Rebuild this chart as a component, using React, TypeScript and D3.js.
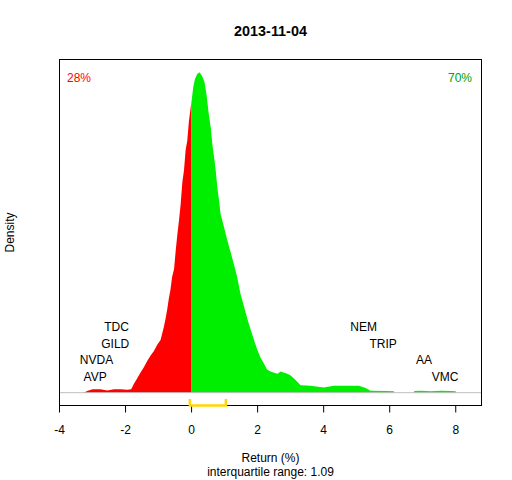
import React from "react";
import * as d3 from "d3";

const title = "2013-11-04";
const returnGrid = [
  -3.27, -3.16, -3.0, -2.76, -2.55, -2.35, -2.15, -1.95, -1.83, -1.75, -1.65, -1.55, -1.45, -1.34,
  -1.24, -1.14, -1.04, -0.94, -0.84, -0.79, -0.74, -0.69, -0.64, -0.59, -0.53, -0.48, -0.43, -0.38,
  -0.33, -0.28, -0.23, -0.18, -0.13, -0.08, -0.03, 0, 0.05, 0.1, 0.17, 0.24, 0.32, 0.39, 0.45, 0.52,
  0.58, 0.63, 0.68, 0.73, 0.78, 0.83, 0.88, 0.98, 1.08, 1.18, 1.28, 1.38, 1.48, 1.59, 1.69, 1.79,
  1.89, 1.99, 2.09, 2.19, 2.29, 2.39, 2.5, 2.6, 2.7, 2.8, 2.9, 3.0, 3.15, 3.3, 3.6, 4.0, 4.31, 4.72,
  5.07, 5.27, 5.42, 5.93, 6.13, 6.13, 6.74, 6.74, 6.94, 7.24, 7.55, 7.85, 8.0, 8.0,
];
const densityValues = [
  0, 0.003, 0.006, 0.006, 0.004, 0.006, 0.006, 0.005, 0.006, 0.015, 0.025, 0.035, 0.044, 0.056,
  0.065, 0.073, 0.084, 0.092, 0.115, 0.129, 0.145, 0.164, 0.18, 0.202, 0.216, 0.249, 0.277, 0.302,
  0.33, 0.368, 0.389, 0.424, 0.441, 0.475, 0.497, 0.51, 0.534, 0.548, 0.557, 0.56, 0.553, 0.543,
  0.522, 0.487, 0.464, 0.434, 0.412, 0.389, 0.359, 0.337, 0.312, 0.29, 0.267, 0.246, 0.225, 0.202,
  0.173, 0.15, 0.129, 0.11, 0.092, 0.075, 0.061, 0.051, 0.04, 0.037, 0.035, 0.033, 0.037, 0.035,
  0.033, 0.03, 0.022, 0.013, 0.012, 0.009, 0.012, 0.012, 0.012, 0.008, 0.0035, 0.003, 0.0026, 0,
  0, 0.003, 0.0035, 0.0026, 0.0035, 0.003, 0.0026, 0,
];

const leftTickers = ["AVP", "NVDA", "GILD", "TDC"];
const leftReturns = [-2.92, -2.88, -2.31, -2.27];
const rightTickers = ["VMC", "AA", "TRIP", "NEM"];
const rightReturns = [7.68, 7.04, 5.8, 5.21];

const quartile1 = -0.05;
const quartile3 = 1.04;
const iqrLabel = "1.09";
const pctNegative = 28;
const pctPositive = 70;
const xTicks = [-4, -2, 0, 2, 4, 6, 8];
const xDomain = [-4, 8.78];

const W = 512;
const H = 480;
const L = 59.5, R = 481.5, T = 59.5, B = 405.5;
const FONT = "'Liberation Sans', Arial, Helvetica, sans-serif";

export default function App() {
  const x = d3.scaleLinear().domain(xDomain).range([L, R]);
  const yMax = d3.max(densityValues) as number;
  const pad = 0.04 * yMax;
  const y = d3.scaleLinear().domain([-pad, yMax + pad]).range([B, T]);

  const pts = returnGrid.map((r, i) => ({ r, d: densityValues[i] }));
  const area = d3
    .area<{ r: number; d: number }>()
    .x((p) => x(p.r))
    .y0(y(0))
    .y1((p) => y(p.d))
    .curve(d3.curveLinear);
  const neg = pts.filter((p) => p.r <= 0);
  const pos = pts.filter((p) => p.r >= 0);

  const rowStep = 16.8;
  const labelY = (lvl: number) => y(0) - 11.5 - lvl * rowStep;

  return (
    <svg
      width={W}
      height={H}
      style={{ position: "absolute", left: 0, top: 0, background: "#fff" }}
      fontFamily={FONT}
    >
      <rect x={0} y={0} width={W} height={H} fill="#fff" />
      <text x={(L + R) / 2} y={36} textAnchor="middle" fontWeight="bold" fontSize={14.4}>
        {title}
      </text>
      <path d={area(neg) || ""} fill="#ff0000" />
      <path d={area(pos) || ""} fill="#00ee00" />
      <line x1={L} x2={R} y1={y(0)} y2={y(0)} stroke="#bebebe" strokeWidth={1} />
      <rect x={L} y={T} width={R - L} height={B - T} fill="none" stroke="#000" strokeWidth={1} />
      {xTicks.map((t) => (
        <g key={t}>
          <line x1={x(t)} x2={x(t)} y1={B} y2={B + 7} stroke="#000" />
          <text x={x(t)} y={433.5} textAnchor="middle" fontSize={12}>
            {t}
          </text>
        </g>
      ))}
      <path
        d={`M${x(quartile1)},${B - 6.5} V${B} H${x(quartile3)} V${B - 6.5}`}
        fill="none"
        stroke="#ffd700"
        strokeWidth={2.5}
      />
      <text x={(L + R) / 2} y={461.5} textAnchor="middle" fontSize={12}>
        Return (%)
      </text>
      <text x={(L + R) / 2} y={476} textAnchor="middle" fontSize={12}>
        {`interquartile range: ${iqrLabel}`}
      </text>
      <text
        transform={`translate(14,${(T + B) / 2}) rotate(-90)`}
        textAnchor="middle"
        fontSize={12}
      >
        Density
      </text>
      <text x={67} y={82} fontSize={12} fill="#ff0000">
        {`${pctNegative}%`}
      </text>
      <text x={472} y={82} fontSize={12} fill="#00a000" textAnchor="end">
        {`${pctPositive}%`}
      </text>
      {leftTickers.map((t, i) => (
        <text key={t} x={x(leftReturns[i])} y={labelY(i)} textAnchor="middle" fontSize={12}>
          {t}
        </text>
      ))}
      {rightTickers.map((t, i) => (
        <text key={t} x={x(rightReturns[i])} y={labelY(i)} textAnchor="middle" fontSize={12}>
          {t}
        </text>
      ))}
    </svg>
  );
}
